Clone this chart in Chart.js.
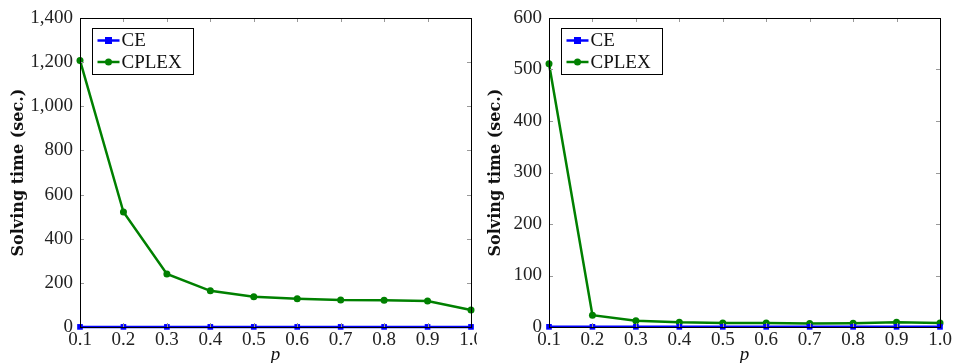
<!DOCTYPE html>
<html>
<head>
<meta charset="utf-8">
<script src="https://cdn.jsdelivr.net/npm/chart.js@4"></script>
<style>
  body { margin: 0; background: #fff; }
  .panel { position: absolute; top: 0; width: 477px; height: 363px; }
</style>
</head>
<body>
<div class="panel" style="left:0px"><canvas id="left_chart"></canvas></div>
<div class="panel" style="left:477px"><canvas id="right_chart"></canvas></div>
<script>
// p values on the x axis
const pLabels = ['0.1', '0.2', '0.3', '0.4', '0.5', '0.6', '0.7', '0.8', '0.9', '1.0'];

// left panel (seconds)
const leftCE    = [0.5, 0.5, 0.5, 0.5, 0.5, 0.5, 0.5, 0.5, 0.5, 0.5];
const leftCPLEX = [1208, 521, 240, 164, 137, 128, 122, 121, 118, 77];
const leftTicks = [0, 200, 400, 600, 800, 1000, 1200, 1400];

// right panel (seconds)
const rightCE    = [0.3, 0.3, 0.3, 0.3, 0.3, 0.3, 0.3, 0.3, 0.3, 0.3];
const rightCPLEX = [511, 23, 12, 9, 8, 7.8, 6.8, 7.2, 9, 8];
const rightTicks = [0, 100, 200, 300, 400, 500, 600];

const FONT = "'Liberation Serif', 'DejaVu Serif', serif";
const BLUE = '#0000ff';
const GREEN = '#008000';

// black frame, inward tick marks on all four sides, legend in the top-left corner
const framePlugin = {
    id: 'frame',
    afterDatasetsDraw(chart) {
        const ctx = chart.ctx;
        const a = chart.chartArea;
        const xs = chart.scales.x;
        const ys = chart.scales.y;
        ctx.save();
        ctx.strokeStyle = '#999';
        ctx.lineWidth = 1;
        ctx.beginPath();
        ys.ticks.forEach(function(t) {
            let y = Math.round(ys.getPixelForValue(t.value)) + 0.5;
            ctx.moveTo(a.left, y); ctx.lineTo(a.left + 4, y);
            ctx.moveTo(a.right - 4, y); ctx.lineTo(a.right, y);
        });
        for (let i = 0; i < pLabels.length; i++) {
            let x = Math.round(xs.getPixelForValue(i)) + 0.5;
            ctx.moveTo(x, a.top); ctx.lineTo(x, a.top + 4);
            ctx.moveTo(x, a.bottom - 4); ctx.lineTo(x, a.bottom);
        }
        ctx.stroke();
        ctx.strokeStyle = '#000';
        ctx.strokeRect(Math.round(a.left) + 0.5, Math.round(a.top) + 0.5,
                       Math.round(a.right - a.left), Math.round(a.bottom - a.top));
        ctx.restore();
    },
    afterDraw(chart) {
        const ctx = chart.ctx;
        const a = chart.chartArea;
        const bx = Math.round(a.left) + 12.5, by = Math.round(a.top) + 10.5;
        ctx.save();
        ctx.fillStyle = '#fff';
        ctx.fillRect(bx, by, 101, 46);
        ctx.strokeStyle = '#000';
        ctx.lineWidth = 1;
        ctx.strokeRect(bx, by, 101, 46);
        ctx.font = '19px ' + FONT;
        ctx.textBaseline = 'middle';
        chart.data.datasets.forEach(function(ds, i) {
            let cy = by + 12 + i * 21.5;
            ctx.strokeStyle = ds.borderColor;
            ctx.lineWidth = 2.5;
            ctx.beginPath();
            ctx.moveTo(bx + 5, cy); ctx.lineTo(bx + 27, cy);
            ctx.stroke();
            ctx.fillStyle = ds.borderColor;
            if (ds.pointStyle === 'rect') {
                ctx.fillRect(bx + 12.5, cy - 3.5, 7, 7);
            } else {
                ctx.beginPath();
                ctx.arc(bx + 16, cy, 3.5, 0, Math.PI * 2);
                ctx.fill();
            }
            ctx.fillStyle = '#111';
            ctx.fillText(ds.label, bx + 29, cy + 1);
        });
        ctx.restore();
    }
};

function makeChart(canvasId, ceValues, cplexValues, yTicks, yWidth, rightPad) {
    const config = {
        type: 'line',
        data: {
            labels: pLabels,
            datasets: [{
                label: 'CE',
                data: ceValues,
                borderColor: BLUE,
                backgroundColor: BLUE,
                borderWidth: 2.5,
                pointStyle: 'rect',
                pointRadius: 4,
                pointBorderWidth: 0,
                clip: false
            }, {
                label: 'CPLEX',
                data: cplexValues,
                borderColor: GREEN,
                backgroundColor: GREEN,
                borderWidth: 2.5,
                pointStyle: 'circle',
                pointRadius: 3.5,
                pointBorderWidth: 0,
                clip: false
            }]
        },
        options: {
            responsive: true,
            maintainAspectRatio: false,
            animation: false,
            layout: { padding: { left: 0, right: rightPad, top: 18, bottom: 0 } },
            plugins: {
                legend: { display: false },
                tooltip: { enabled: false }
            },
            scales: {
                x: {
                    type: 'category',
                    offset: false,
                    grid: { display: false, drawTicks: false },
                    border: { display: false },
                    ticks: {
                        color: '#222',
                        padding: 2,
                        maxRotation: 0,
                        autoSkip: false,
                        font: { family: FONT, size: 19 }
                    },
                    title: {
                        display: true,
                        text: 'p',
                        color: '#111',
                        padding: { top: 0, bottom: -3 },
                        font: { family: FONT, size: 19, style: 'italic' }
                    },
                    afterFit: function(scale) {
                        scale.height = 36;
                        scale.paddingLeft = 0;
                        scale.paddingRight = 0;
                    }
                },
                y: {
                    min: yTicks[0],
                    max: yTicks[yTicks.length - 1],
                    grid: { display: false, drawTicks: false },
                    border: { display: false },
                    afterBuildTicks: function(scale) {
                        scale.ticks = yTicks.map(function(v) { return { value: v }; });
                    },
                    ticks: {
                        color: '#222',
                        padding: 7,
                        font: { family: FONT, size: 19 },
                        callback: function(value) {
                            return value.toLocaleString('en-US');
                        }
                    },
                    title: {
                        display: true,
                        text: 'Solving time (sec.)',
                        color: '#111',
                        padding: { top: 9, bottom: 0 },
                        font: { family: "'DejaVu Serif', serif", size: 16, weight: 'bold' }
                    },
                    afterFit: function(scale) {
                        scale.width = yWidth;
                        scale.paddingTop = 0;
                        scale.paddingBottom = 0;
                    }
                }
            }
        },
        plugins: [framePlugin]
    };
    return new Chart(document.getElementById(canvasId), config);
}

makeChart('left_chart', leftCE, leftCPLEX, leftTicks, 80, 6);
makeChart('right_chart', rightCE, rightCPLEX, rightTicks, 72, 14);
</script>
</body>
</html>
